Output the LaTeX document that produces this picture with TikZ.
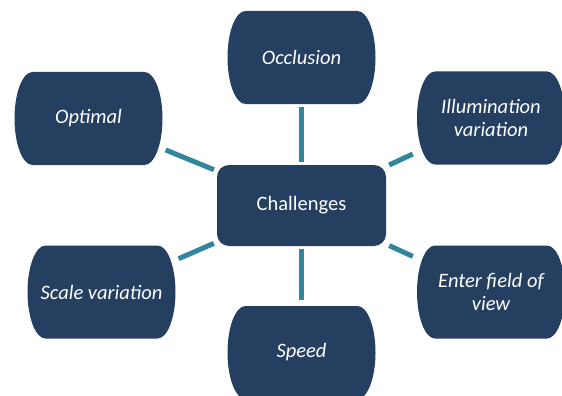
\documentclass[tikz,border=0pt]{standalone}
\usepackage{fontspec}
\setmainfont{Carlito}
\definecolor{navy}{HTML}{243F60}
\definecolor{tealc}{HTML}{31859C}
\tikzset{
  sat/.style={minimum width=148pt, minimum height=93pt, inner sep=0pt, align=center,
    text=white, font=\fontsize{20.5}{23.5}\selectfont\itshape, fill=white,
    path picture={\fill[navy] ([xshift=18pt]path picture bounding box.north west)
      -- ([xshift=-18pt]path picture bounding box.north east)
      arc[start angle=90,end angle=-90,x radius=18pt,y radius=46.5pt]
      -- ([xshift=18pt]path picture bounding box.south west)
      arc[start angle=270,end angle=90,x radius=18pt,y radius=46.5pt] -- cycle;}},
  hub/.style={minimum width=169pt, minimum height=81pt, inner sep=0pt, fill=navy,
    rounded corners=12pt, text=white, font=\fontsize{20.5}{23.5}\selectfont},
  conn/.style={draw=tealc, line width=5pt}
}
\begin{document}
\begin{tikzpicture}[x=1pt,y=-1pt]
\useasboundingbox (0,0) rectangle (562,396);
\node[hub] (ch) at (301.5,205.5) {Challenges};
\node[sat] (occ) at (301.5,57.5) {Occlusion};
\node[sat] (spd) at (301.5,352.5) {Speed};
\node[sat] (opt) at (88.5,118.5) {Optimal};
\node[sat] (scl) at (101.5,292) {Scale variation};
\node[sat] (ill) at (491,118) {Illumination\\variation};
\node[sat] (ent) at (491,292) {Enter field of\\view};
\draw[conn, shorten <=3pt, shorten >=3pt] (ch) -- (occ);
\draw[conn, shorten <=3pt, shorten >=6pt] (ch) -- (spd);
\draw[conn, shorten <=3pt, shorten >=3.2pt] (ch) -- (opt);
\draw[conn, shorten <=3.2pt, shorten >=3.2pt] (ch) -- (scl);
\draw[conn, shorten <=3.3pt, shorten >=4.4pt] (ch) -- (ill);
\draw[conn, shorten <=3.3pt, shorten >=4.4pt] (ch) -- (ent);
\end{tikzpicture}
\end{document}
